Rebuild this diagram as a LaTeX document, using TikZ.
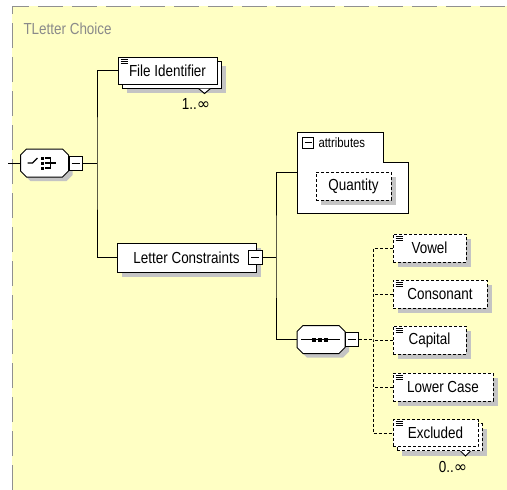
\documentclass[tikz,border=0pt]{standalone}
\usepackage{fontspec}
\setmainfont{Liberation Sans}[FakeStretch=0.84]
\newfontfamily\symf{DejaVu Sans}
\usetikzlibrary{shadows,calc}
\definecolor{bgc}{HTML}{FFFFC4}
\definecolor{bordc}{HTML}{909090}
\definecolor{shc}{HTML}{C4C4C4}
\definecolor{titc}{HTML}{8A8A8A}
\begin{document}
\begin{tikzpicture}[x=1pt,y=-1pt, line width=1pt,
  txt/.style={font=\fontsize{16}{17}\selectfont},
  box/.style={draw, fill=white, inner sep=0pt, txt, minimum height=28pt},
  shad/.style={drop shadow={shadow xshift=5pt, shadow yshift=-5pt, fill=shc, opacity=1}},
  opt/.style={dash pattern=on 3pt off 2pt},
  minbox/.style={draw, fill=white, inner sep=0pt, minimum width=13pt, minimum height=14pt},
  ghost/.style={inner sep=0pt, draw=none},
  eqicon/.pic={\foreach \i in {0,2,4} \draw[line width=0.8pt] (0,\i) -- (7,\i);},
  octa/.pic={
    \fill[shc] (-18+4,-14+4) -- (18+4,-14+4) -- (24+4,-8+4) -- (24+4,8+4) -- (18+4,14+4) -- (-18+4,14+4) -- (-24+4,8+4) -- (-24+4,-8+4) -- cycle;
    \draw[fill=white] (-18,-14) -- (18,-14) -- (24,-8) -- (24,8) -- (18,14) -- (-18,14) -- (-24,8) -- (-24,-8) -- cycle;},
  choiceicon/.pic={
    \draw[line width=1.4pt] (-17,0) -- (-12,0) -- (-7,-5);
    \fill (-3.5,-6.5) rectangle (-0.5,-3.5);
    \fill (-3.5,-1.5) rectangle (-0.5,1.5);
    \fill (-3.5,3.5) rectangle (-0.5,6.5);
    \draw[line width=1.4pt] (0,-5) -- (6,-5) -- (6,5) -- (0,5);
    \draw[line width=1.4pt] (0,0) -- (11,0);},
  seqicon/.pic={
    \draw[line width=1.2pt] (-20,0) -- (19,0);
    \fill (-9,-2) rectangle (-5,2);
    \fill (-3,-2) rectangle (1,2);
    \fill (3,-2) rectangle (7,2);}
]
\useasboundingbox (0,0) rectangle (507,490);
\fill[bgc] (12,6) rectangle (507,490);
\draw[bordc, dash pattern=on 25pt off 9pt] (12,490) -- (12,6) -- (507,6);

\node[anchor=west, text=titc, txt, inner sep=0] (title) at (23,29) {TLetter Choice};

% choice compositor
\node[ghost, minimum width=48pt, minimum height=28pt] (choice) at (44.5,163) {};
\pic at (choice) {octa};
\pic at (choice) {choiceicon};
\node[minbox] (cmin) at (75.5,163) {\rule{8pt}{1pt}};

% File Identifier (1..inf)
\node[box, shad, minimum width=99pt, minimum height=27pt] (fidb) at (171.5,74.5) {};
\draw[fill=white] ([xshift=-23pt]fidb.south east) -- ++(6,5) -- ++(6,-5);
\node[box, minimum width=99pt, minimum height=27pt] (fid) at (167.5,70.5) {File Identifier};
\pic at ([xshift=3pt,yshift=-2.5pt]fid.north west) {eqicon};
\node[txt, inner sep=0] (fidm) at (196,104) {1..{\symf ∞}};

% Letter Constraints
\node[box, shad, minimum width=139pt, minimum height=29pt] (lc) at (186.5,257.5) {Letter Constraints\hspace{6pt}};
\node[minbox, minimum width=14pt] (lcmin) at (255,257.5) {\rule{8pt}{1pt}};

% attributes
\node[ghost, minimum width=111pt, minimum height=81pt] (attr) at (352.5,172.5) {};
\draw[fill=white] (297,132) -- (383,132) -- (383,162) -- (408,162) -- (408,213) -- (297,213) -- cycle;
\node[minbox, minimum width=11pt, minimum height=11pt] (amin) at (308,142.5) {\rule{7pt}{1pt}};
\node[anchor=west, inner sep=0, font=\fontsize{13.5}{14}\selectfont] (atxt) at (318,143) {attributes};
\node[box, opt, shad, minimum width=75pt, minimum height=28pt] (qty) at (353.5,186) {Quantity};

% sequence compositor
\node[ghost, minimum width=48pt, minimum height=28pt] (seq) at (321,339.5) {};
\pic at (seq) {octa};
\pic at (seq) {seqicon};
\node[minbox] (smin) at (351.5,339.5) {\rule{8pt}{1pt}};

% children
\node[box, opt, shad, minimum width=73pt] (vow) at (429.5,248) {Vowel};
\node[box, opt, shad, minimum width=94pt] (con) at (440,294) {Consonant};
\node[box, opt, shad, minimum width=73pt] (cap) at (429.5,340) {Capital};
\node[box, opt, shad, minimum width=100pt] (low) at (443,387) {Lower Case};
\node[box, opt, shad, minimum width=85pt, minimum height=27pt] (excb) at (439.5,437) {};
\draw[fill=white] ([xshift=-22pt]excb.south east) -- ++(5,5) -- ++(5,-5);
\node[box, opt, minimum width=85pt, minimum height=27pt] (exc) at (435.5,433) {Excluded};
\node[txt, inner sep=0] (excm) at (453,467) {0..{\symf ∞}};
\foreach \n in {vow,con,cap,low,exc}
  \pic at ([xshift=3pt,yshift=-2.5pt]\n.north west) {eqicon};

% connectors
\coordinate (in) at (8,163);
\coordinate (tk) at (97,163);
\coordinate (t2) at (276,257.5);
\coordinate (t3) at (373,339.5);
\draw (in) -- (choice.west);
\draw (cmin.east) -- (tk);
\draw (fid.west) -| (tk) |- (lc.west);
\draw (lcmin.east) -- (t2);
\draw (attr.west) -| (t2) |- (seq.west);
\draw[opt] (smin.east) -- (t3);
\draw[opt] (vow.west) -| (t3) |- (exc.west);
\draw[opt] (con.west) -- (con.west -| t3);
\draw[opt] (cap.west) -- (cap.west -| t3);
\draw[opt] (low.west) -- (low.west -| t3);
\end{tikzpicture}
\end{document}
